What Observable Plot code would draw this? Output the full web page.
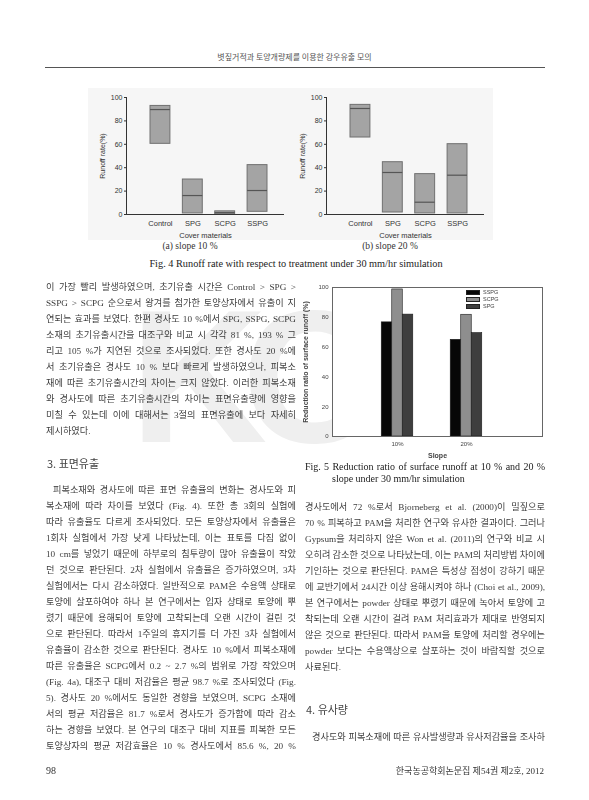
<!DOCTYPE html>
<html><head><meta charset="utf-8">
<script src="https://cdn.jsdelivr.net/npm/d3@7"></script>
<script src="https://cdn.jsdelivr.net/npm/@observablehq/plot@0.6"></script>
<style>
html,body{margin:0;padding:0;background:#fff;}
#page{position:relative;width:589px;height:800px;overflow:hidden;background:#fff;font-family:"Liberation Serif","Noto Sans CJK KR",serif;color:#3c3c3c;}
.abs{position:absolute;}
.col{position:absolute;font-size:9.2px;line-height:16px;}
.ln{height:16px;white-space:nowrap;text-align:left;}
.ln.j{text-align:justify;text-align-last:justify;}
.ln.ind{padding-left:7px;}
.head{position:absolute;font-family:"Noto Sans CJK KR",sans-serif;font-size:11px;line-height:16px;color:#444;}
.cap{font-family:"Liberation Serif",serif;color:#222;}
#wm{position:absolute;left:130px;top:285px;}
.leg{position:absolute;font-family:"Liberation Sans",sans-serif;font-size:5.5px;color:#444;line-height:7px;}
.leg .sw{display:inline-block;width:14px;height:4.5px;margin-right:3px;vertical-align:middle;border:0.5px solid #222;box-sizing:border-box;}
</style></head>
<body>
<div id="page">
  <canvas id="wm" width="240" height="220"></canvas>
  <div class="abs" style="left:0;width:589px;top:51px;text-align:center;font-family:'Noto Sans CJK KR',sans-serif;font-size:8px;line-height:12px;color:#555;">볏짚거적과 토양개량제를 이용한 강우유출 모의</div>
  <div class="abs" style="left:45px;top:67px;width:500px;height:1px;background:#555;"></div>

  <div id="fig4a" class="abs" style="left:88px;top:88px;"></div>
  <div id="fig4b" class="abs" style="left:288px;top:88px;"></div>
  <div class="abs cap" style="left:140px;width:100px;top:240px;text-align:center;font-size:9.5px;line-height:12px;color:#333;">(a) slope 10 %</div>
  <div class="abs cap" style="left:340px;width:100px;top:240px;text-align:center;font-size:9.5px;line-height:12px;color:#333;">(b) slope 20 %</div>
  <div class="abs cap" style="left:0;width:592px;top:258px;text-align:center;font-size:10.3px;line-height:12px;">Fig. 4 Runoff rate with respect to treatment under 30 mm/hr simulation</div>

  <div class="col" style="left:46px;top:279px;width:250px;">
    <div class="ln j"><span>이 가장 빨리 발생하였으며, 초기유출 시간은 Control &gt; SPG &gt;</span></div>
    <div class="ln j"><span>SSPG &gt; SCPG 순으로서 왕겨를 첨가한 토양상자에서 유출이 지</span></div>
    <div class="ln j"><span>연되는 효과를 보였다. 한편 경사도 10 %에서 SPG, SSPG, SCPG</span></div>
    <div class="ln j"><span>소재의 초기유출시간을 대조구와 비교 시 각각 81 %, 193 % 그</span></div>
    <div class="ln j"><span>리고 105 %가 지연된 것으로 조사되었다. 또한 경사도 20 %에</span></div>
    <div class="ln j"><span>서 초기유출은 경사도 10 % 보다 빠르게 발생하였으나, 피복소</span></div>
    <div class="ln j"><span>재에 따른 초기유출시간의 차이는 크지 않았다. 이러한 피복소재</span></div>
    <div class="ln j"><span>와 경사도에 따른 초기유출시간의 차이는 표면유출량에 영향을</span></div>
    <div class="ln j"><span>미칠 수 있는데 이에 대해서는 3절의 표면유출에 보다 자세히</span></div>
    <div class="ln"><span>제시하였다.</span></div>
  </div>
  <div class="head" style="left:47px;top:455px;">3. 표면유출</div>
  <div class="col" style="left:46px;top:482px;width:250px;">
    <div class="ln j ind"><span>피복소재와 경사도에 따른 표면 유출율의 변화는 경사도와 피</span></div>
    <div class="ln j"><span>복소재에 따라 차이를 보였다 (Fig. 4). 또한 총 3회의 실험에</span></div>
    <div class="ln j"><span>따라 유출율도 다르게 조사되었다. 모든 토양상자에서 유출율은</span></div>
    <div class="ln j"><span>1회차 실험에서 가장 낮게 나타났는데, 이는 표토를 다짐 없이</span></div>
    <div class="ln j"><span>10 cm를 넣었기 때문에 하부로의 침투량이 많아 유출율이 작았</span></div>
    <div class="ln j"><span>던 것으로 판단된다. 2차 실험에서 유출율은 증가하였으며, 3차</span></div>
    <div class="ln j"><span>실험에서는 다시 감소하였다. 일반적으로 PAM은 수용액 상태로</span></div>
    <div class="ln j"><span>토양에 살포하여야 하나 본 연구에서는 입자 상태로 토양에 뿌</span></div>
    <div class="ln j"><span>렸기 때문에 용해되어 토양에 고착되는데 오랜 시간이 걸린 것</span></div>
    <div class="ln j"><span>으로 판단된다. 따라서 1주일의 휴지기를 더 가진 3차 실험에서</span></div>
    <div class="ln j"><span>유출율이 감소한 것으로 판단된다. 경사도 10 %에서 피복소재에</span></div>
    <div class="ln j"><span>따른 유출율은 SCPG에서 0.2 ~ 2.7 %의 범위로 가장 작았으며</span></div>
    <div class="ln j"><span>(Fig. 4a), 대조구 대비 저감율은 평균 98.7 %로 조사되었다 (Fig.</span></div>
    <div class="ln j"><span>5). 경사도 20 %에서도 동일한 경향을 보였으며, SCPG 소재에</span></div>
    <div class="ln j"><span>서의 평균 저감율은 81.7 %로서 경사도가 증가함에 따라 감소</span></div>
    <div class="ln j"><span>하는 경향을 보였다. 본 연구의 대조구 대비 지표를 피복한 모든</span></div>
    <div class="ln j"><span>토양상자의 평균 저감효율은 10 % 경사도에서 85.6 %, 20 %</span></div>
  </div>

  <div id="fig5" class="abs" style="left:300px;top:282px;"></div>
  <div id="leg5" class="leg" style="left:466px;top:289px;"></div>
  <div class="abs cap" style="left:305px;top:461px;width:240px;font-size:10px;line-height:12px;">
    <div style="text-align:justify;text-align-last:justify;white-space:nowrap;">Fig. 5 Reduction ratio of surface runoff at 10 % and 20 %</div>
    <div style="padding-left:27px;white-space:nowrap;">slope under 30 mm/hr simulation</div>
  </div>
  <div class="col" style="left:305px;top:499px;width:240px;">
    <div class="ln j"><span>경사도에서 72 %로서 Bjorneberg et al. (2000)이 밀짚으로</span></div>
    <div class="ln j"><span>70 % 피복하고 PAM을 처리한 연구와 유사한 결과이다. 그러나</span></div>
    <div class="ln j"><span>Gypsum을 처리하지 않은 Won et al. (2011)의 연구와 비교 시</span></div>
    <div class="ln j"><span>오히려 감소한 것으로 나타났는데, 이는 PAM의 처리방법 차이에</span></div>
    <div class="ln j"><span>기인하는 것으로 판단된다. PAM은 특성상 점성이 강하기 때문</span></div>
    <div class="ln j"><span>에 교반기에서 24시간 이상 용해시켜야 하나 (Choi et al., 2009),</span></div>
    <div class="ln j"><span>본 연구에서는 powder 상태로 뿌렸기 때문에 녹아서 토양에 고</span></div>
    <div class="ln j"><span>착되는데 오랜 시간이 걸려 PAM 처리효과가 제대로 반영되지</span></div>
    <div class="ln j"><span>않은 것으로 판단된다. 따라서 PAM을 토양에 처리할 경우에는</span></div>
    <div class="ln j"><span>powder 보다는 수용액상으로 살포하는 것이 바람직할 것으로</span></div>
    <div class="ln"><span>사료된다.</span></div>
  </div>
  <div class="head" style="left:306px;top:701px;">4. 유사량</div>
  <div class="col" style="left:305px;top:729px;width:240px;">
    <div class="ln j ind"><span>경사도와 피복소재에 따른 유사발생량과 유사저감율을 조사하</span></div>
  </div>

  <div class="abs" style="left:46px;top:765px;font-size:10px;line-height:12px;color:#333;">98</div>
  <div class="abs" style="left:300px;width:244px;top:765px;text-align:right;font-size:9px;line-height:12px;color:#333;">한국농공학회논문집 제54권 제2호, 2012</div>
</div>

<script>
// ---- Fig. 4 data: runoff rate (%) range and median per cover material ----
const materials = ["Control", "SPG", "SCPG", "SSPG"];
const runoff10Min = [60.4, 0.9, 0.2, 2.3];
const runoff10Med = [89.7, 16.2, 1.6, 20.5];
const runoff10Max = [92.8, 29.9, 2.7, 42.2];
const runoff20Min = [65.8, 1.7, 0.9, 0.9];
const runoff20Med = [90.6, 35.9, 10.5, 33.6];
const runoff20Max = [93.7, 44.7, 34.5, 60.1];
const runoffTicks = [0, 20, 40, 60, 80, 100];

// ---- Fig. 5 data: reduction ratio of surface runoff (%) ----
const slopes = ["10%", "20%"];
const reductionSeries = ["SSPG", "SCPG", "SPG"];
const reductionSSPG = [76.6, 64.9];
const reductionSCPG = [98.7, 81.7];
const reductionSPG = [81.8, 69.4];
const reductionTicks = [0, 20, 40, 60, 80, 100];
const reductionColors = ["#070707", "#8e8e8e", "#3e3e3e"];

// faint page watermark (raster, behind the text)
(function () {
  const c = document.getElementById("wm").getContext("2d");
  c.fillStyle = "#efefef";
  c.font = "bold 190px 'Liberation Sans', sans-serif";
  c.textBaseline = "top";
  c.fillText("K", 0, 10);
  c.fillText("C", 112, 10);
})();

function runoffChart(mins, meds, maxs) {
  const rows = materials.map((m, i) => ({material: m, lo: mins[i], mid: meds[i], hi: maxs[i]}));
  return Plot.plot({
    width: 205, height: 152,
    marginLeft: 38, marginRight: 9, marginTop: 9, marginBottom: 26,
    style: {background: "#f6f6f6", fontFamily: "Liberation Sans, Arial, sans-serif", color: "#333", overflow: "visible"},
    x: {type: "band", domain: materials, range: [62, 179], paddingInner: 0.385, paddingOuter: 0, round: false},
    y: {domain: [0, 100]},
    marks: [
      Plot.barY(rows, {x: "material", y1: "lo", y2: "hi", fill: "#a4a4a4", stroke: "#707070", strokeWidth: 1}),
      Plot.tickY(rows, {x: "material", y: "mid", stroke: "#555", strokeWidth: 1.2}),
      Plot.ruleY([0], {stroke: "#333"}),
      Plot.frame({anchor: "left", stroke: "#333"}),
      Plot.axisY({ticks: runoffTicks, tickSize: 2, tickPadding: 2, fontSize: 7, label: "Runoff rate(%)", labelAnchor: "center", labelArrow: "none", labelOffset: 26}),
      Plot.axisX({tickSize: 0, tickPadding: 6, fontSize: 7.5, label: "Cover materials", labelAnchor: "center", labelOffset: 23})
    ]
  });
}

document.getElementById("fig4a").appendChild(runoffChart(runoff10Min, runoff10Med, runoff10Max));
document.getElementById("fig4b").appendChild(runoffChart(runoff20Min, runoff20Med, runoff20Max));

const reductionValues = [reductionSSPG, reductionSCPG, reductionSPG];
const rows5 = slopes.flatMap((s, j) => reductionSeries.map((m, i) => ({slope: s, material: m, value: reductionValues[i][j]})));
const third = 10.5;
const fig5 = Plot.plot({
  width: 250, height: 180,
  marginLeft: 32, marginRight: 8, marginTop: 5, marginBottom: 26,
  style: {background: "transparent", fontFamily: "Liberation Sans, Arial, sans-serif", color: "#444", overflow: "visible"},
  x: {type: "band", domain: slopes, range: [81.25, 181.75], paddingInner: 0.543, paddingOuter: 0, round: false},
  y: {domain: [0, 100]},
  marks: [
    Plot.frame({fill: "#ffffff", stroke: "none"}),
    ...reductionSeries.map((m, i) => Plot.barY(rows5.filter(d => d.material === m), {
      x: "slope", y: "value", fill: reductionColors[i], stroke: "#1c1c1c", strokeWidth: 0.6,
      insetLeft: i * third, insetRight: (2 - i) * third
    })),
    Plot.frame({stroke: "#666"}),
    Plot.axisY({ticks: reductionTicks, tickSize: 0, tickPadding: 4, fontSize: 6, label: "Reduction ratio of surface runoff (%)", labelAnchor: "center", labelArrow: "none", labelOffset: 29}),
    Plot.axisX({tickSize: 0, tickPadding: 5, fontSize: 6, label: "Slope", labelAnchor: "center", labelOffset: 21})
  ]
});
d3.select(fig5).selectAll('[aria-label="y-axis label"], [aria-label="x-axis label"]').attr("font-weight", "bold").attr("font-size", 7);
document.getElementById("fig5").appendChild(fig5);

// legend built from the same series and colours
const leg = d3.select("#leg5");
reductionSeries.forEach((m, i) => {
  const row = leg.append("div");
  row.append("span").attr("class", "sw").style("background", reductionColors[i]);
  row.append("span").text(m);
});

// fit each justified text line to its column
document.querySelectorAll(".ln").forEach(div => {
  const span = div.firstElementChild;
  const cs = getComputedStyle(div);
  const avail = div.clientWidth - parseFloat(cs.paddingLeft);
  const w = span.getBoundingClientRect().width;
  if (w > avail) {
    span.style.display = "inline-block";
    span.style.transformOrigin = "0 0";
    span.style.transform = `scaleX(${avail / w})`;
    div.classList.remove("j");
  }
});
</script>
</body></html>
